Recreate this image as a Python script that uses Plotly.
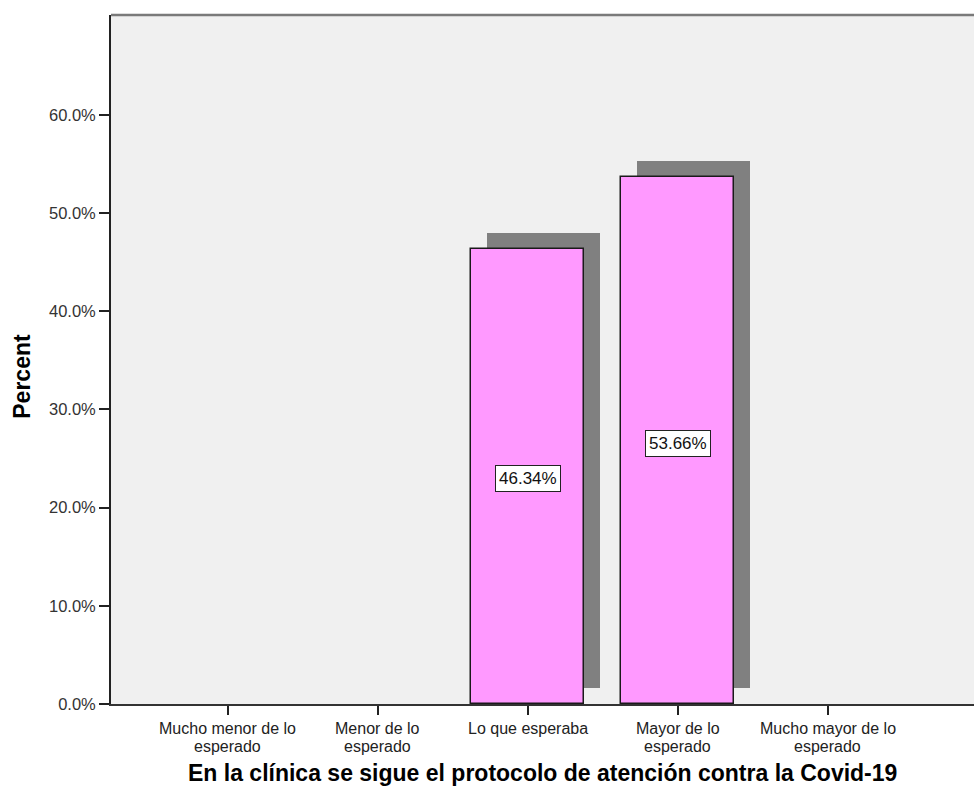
import plotly.graph_objects as go

categories = [
    "Mucho menor de lo<br>esperado",
    "Menor de lo<br>esperado",
    "Lo que esperaba",
    "Mayor de lo<br>esperado",
    "Mucho mayor de lo<br>esperado",
]
percent = [0.0, 0.0, 46.34, 53.66, 0.0]
y_ticks = [0, 10, 20, 30, 40, 50, 60]
y_tick_text = ["0.0%", "10.0%", "20.0%", "30.0%", "40.0%", "50.0%", "60.0%"]

FONT = "Arial, Liberation Sans, sans-serif"
BAR_W = 0.755
SHADOW_DX = 0.107   # drop-shadow shift to the right (x units)
SHADOW_DY = 1.63    # drop-shadow shift upwards (percent units)
LINE_GAP = 18       # tight leading for the two-line category labels (px)

pos = list(range(len(categories)))
shown = [i for i, v in enumerate(percent) if v > 0]

fig = go.Figure()

# drop shadows behind the bars
fig.add_trace(go.Bar(
    x=[pos[i] + SHADOW_DX for i in shown],
    y=[percent[i] for i in shown],
    base=[SHADOW_DY for _ in shown],
    width=BAR_W,
    marker=dict(color="#808080", line=dict(width=0)),
    hoverinfo="skip",
    showlegend=False,
))

# the bars
fig.add_trace(go.Bar(
    x=[pos[i] for i in shown],
    y=[percent[i] for i in shown],
    width=BAR_W,
    marker=dict(color="#FF99FF", line=dict(color="#1a1a1a", width=1.5)),
    showlegend=False,
))

# boxed value labels in the middle of each bar
for i in shown:
    fig.add_annotation(
        x=pos[i], y=percent[i] / 2, xref="x", yref="y",
        text=f"{percent[i]:.2f}%",
        showarrow=False, yshift=-2.5,
        font=dict(family=FONT, size=17, color="#111111"),
        bgcolor="white", bordercolor="#222222", borderwidth=1, borderpad=3,
    )

# category labels under the ticks, one annotation per line for tight leading
for i, label in zip(pos, categories):
    for k, line in enumerate(label.split("<br>")):
        fig.add_annotation(
            x=i, xref="x", y=0, yref="paper",
            yanchor="middle", yshift=-24 - k * LINE_GAP,
            text=line, showarrow=False,
            font=dict(family=FONT, size=16, color="#222222"),
        )

# x-axis title
fig.add_annotation(
    x=0.5, xref="paper", y=0, yref="paper",
    yanchor="middle", yshift=-69,
    text="<b>En la clínica se sigue el protocolo de atención contra la Covid-19</b>",
    showarrow=False,
    font=dict(family=FONT, size=23, color="black"),
)

# y-axis title
fig.add_annotation(
    x=0, xref="paper", xanchor="center", xshift=-89,
    y=0.475, yref="paper", yanchor="middle",
    text="<b>Percent</b>", textangle=-90, showarrow=False,
    font=dict(family=FONT, size=23, color="black"),
)

# top border of the plot frame
fig.add_shape(type="line", xref="paper", yref="paper",
              x0=0, x1=1, y0=1, y1=1,
              line=dict(color="#7a7a7a", width=2.5))

fig.update_layout(
    width=974, height=796,
    margin=dict(l=111, r=0, t=15, b=92),
    paper_bgcolor="white",
    plot_bgcolor="#F0F0F0",
    barmode="overlay",
    bargap=0,
    font=dict(family=FONT, size=16.5, color="#222222"),
    xaxis=dict(
        range=[-0.778, 4.975],
        tickmode="array", tickvals=pos, showticklabels=False,
        ticks="outside", ticklen=9, tickwidth=1.5, tickcolor="#222222",
        showline=True, linecolor="#333333", linewidth=2,
        showgrid=False, zeroline=False,
    ),
    yaxis=dict(
        range=[0, 70.16],
        tickmode="array", tickvals=y_ticks, ticktext=y_tick_text,
        ticks="outside", ticklen=10, tickwidth=1.5, tickcolor="#222222",
        showline=True, linecolor="#222222", linewidth=1.8,
        showgrid=False, zeroline=False,
        tickfont=dict(family=FONT, size=16.5, color="#333333"),
    ),
)

fig.write_html("out.html")
